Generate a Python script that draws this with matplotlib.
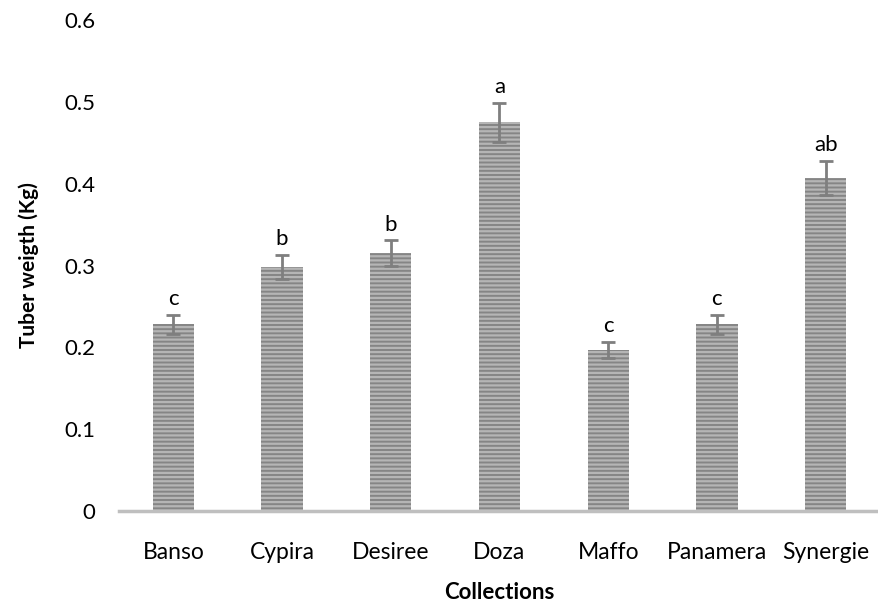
import matplotlib
matplotlib.use("Agg")
import matplotlib.pyplot as plt

categories = ["Banso", "Cypira", "Desiree", "Doza", "Maffo", "Panamera", "Synergie"]
values = [0.228, 0.298, 0.315, 0.475, 0.197, 0.228, 0.407]
errors = [0.012, 0.015, 0.016, 0.024, 0.010, 0.012, 0.021]
letters = ["c", "b", "b", "a", "c", "c", "ab"]
yticks = [0, 0.1, 0.2, 0.3, 0.4, 0.5, 0.6]
ytick_labels = ["0", "0.1", "0.2", "0.3", "0.4", "0.5", "0.6"]

plt.rcParams['font.family'] = ['Lato', 'DejaVu Sans']
plt.rcParams['hatch.linewidth'] = 1.6

fig = plt.figure(figsize=(8.79, 6.05), dpi=100)
ax = fig.add_axes([119/879, 1 - 511/605, 761/879, 491/605])

x = list(range(len(categories)))
bars = ax.bar(x, values, width=0.38, color='#858585', edgecolor='#b5b5b5',
              hatch='----', linewidth=0, zorder=2)
ax.errorbar(x, values, yerr=errors, fmt='none', ecolor='#7f7f7f',
            elinewidth=2, capsize=5, capthick=2, zorder=3)

for xi, v, e, lab in zip(x, values, errors, letters):
    ax.annotate(lab, (xi, v + e), xytext=(0, 4), textcoords='offset points',
                ha='center', va='bottom', fontsize=16)

ax.set_xlim(-0.5, len(categories) - 0.5)
ax.set_ylim(0, 0.6)
ax.set_yticks(yticks)
ax.set_yticklabels(ytick_labels, fontsize=16)
ax.set_xticks(x)
ax.set_xticklabels(categories, fontsize=16.5)
ax.tick_params(axis='both', length=0)
ax.tick_params(axis='y', pad=17)
ax.tick_params(axis='x', pad=22)

for s in ['top', 'right', 'left']:
    ax.spines[s].set_visible(False)
ax.spines['bottom'].set_color('#bfbfbf')
ax.spines['bottom'].set_linewidth(2.5)

ax.set_ylabel('Tuber weigth (Kg)', fontsize=15, fontweight='bold', labelpad=18)
ax.set_xlabel('Collections', fontsize=16, fontweight='bold', labelpad=14)

fig.savefig('out.png', dpi=100)
